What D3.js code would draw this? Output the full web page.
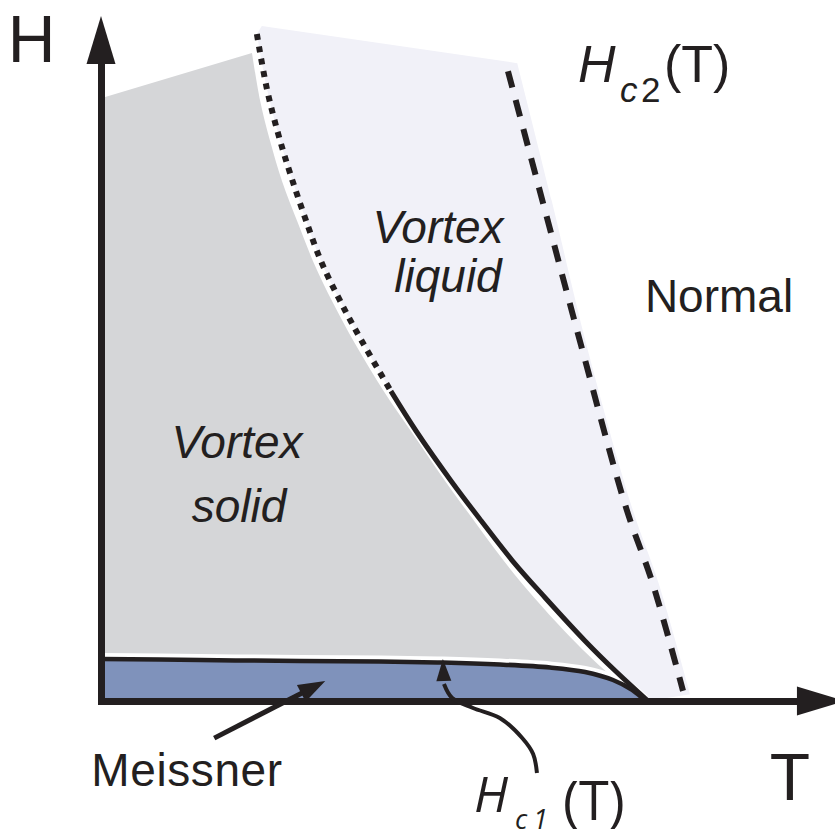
<!DOCTYPE html>
<html>
<head>
<meta charset="utf-8">
<script src="https://cdn.jsdelivr.net/npm/d3@7"></script>
<style>
  html, body { margin: 0; padding: 0; background: #ffffff; }
  svg { display: block; }
  text { font-family: "Liberation Sans", Arial, Helvetica, sans-serif; fill: #231f20; }
</style>
</head>
<body>
<svg id="chart" width="835" height="837"></svg>
<script>
// ---- Phase diagram of a type-II superconductor, reduced units (T/Tc, H/H0) ----

// vortex-lattice melting line (dotted at high field, solid below)
const meltT = [0.285, 0.303, 0.324, 0.346, 0.373, 0.402, 0.437, 0.477, 0.530, 0.576, 0.640, 0.695, 0.753, 0.812, 0.885, 0.941, 1.000];
const meltH = [0.988, 0.908, 0.840, 0.781, 0.716, 0.652, 0.593, 0.533, 0.459, 0.400, 0.326, 0.267, 0.207, 0.153, 0.089, 0.044, 0.000];
const meltSolidFrom = 8;   // first point of the solid (first-order) segment

// outer edge of the vortex-solid shading
const solidEdgeT = [0.000, 0.276, 0.291, 0.309, 0.331, 0.360, 0.389, 0.424, 0.464, 0.517, 0.569, 0.629, 0.682, 0.737, 0.792, 0.865, 0.923, 0.980];
const solidEdgeH = [0.893, 0.960, 0.889, 0.830, 0.770, 0.708, 0.649, 0.590, 0.530, 0.459, 0.397, 0.326, 0.267, 0.207, 0.153, 0.089, 0.044, 0.007];

// upper critical field Hc2(T)
const hc2T = [0.744, 0.812, 0.878, 0.960, 1.009, 1.064];
const hc2H = [0.933, 0.726, 0.526, 0.286, 0.173, 0.015];

// outer edge of the vortex-liquid shading (top edge, then along Hc2)
const liquidEdgeT = [0.294, 0.761, 0.824, 0.888, 0.971, 1.020, 1.077, 1.000];
const liquidEdgeH = [1.000, 0.945, 0.741, 0.526, 0.286, 0.173, 0.010, 0.000];

// lower critical field Hc1(T)
const hc1T = [0.000, 0.181, 0.364, 0.510, 0.625, 0.729, 0.821, 0.885, 0.936, 0.971, 0.995];
const hc1H = [0.0622, 0.0607, 0.0593, 0.0585, 0.0570, 0.0541, 0.0496, 0.0430, 0.0311, 0.0163, 0.000];

// leader lines from the labels below the axis
const meissnerPointerT = [0.207, 0.410];
const meissnerPointerH = [-0.055, 0.0296];
const hc1PointerT = [0.797, 0.790, 0.770, 0.729, 0.680, 0.642, 0.627, 0.625];
const hc1PointerH = [-0.1067, -0.0785, -0.0548, -0.0252, -0.0104, 0.0044, 0.0252, 0.0622];

// axis extents and labels
const axisMaxT = 1.36;
const axisMaxH = 1.015;
const axisLabels = ["T", "H"];
const phaseLabels = ["Normal", "Meissner"];
const solidLabel = ["Vortex", "solid"];
const liquidLabel = ["Vortex", "liquid"];

// ---- drawing ----
const ink = "#231f20";
const svg = d3.select("#chart");

const x = d3.scaleLinear().domain([0, 1]).range([101, 648]);
const y = d3.scaleLinear().domain([0, 1]).range([701, 26]);

const pts = (ts, hs) => ts.map((t, i) => [t, hs[i]]);
const xy = d => x(d[0]) + "," + y(d[1]);
const smooth = d3.line().x(d => x(d[0])).y(d => y(d[1])).curve(d3.curveCatmullRom.alpha(0.5));
const smoothOn = p => smooth(p).replace(/^M/, "L");   // continue an open path with a smooth run

const melt = pts(meltT, meltH);
const solidEdge = pts(solidEdgeT, solidEdgeH);
const liquidEdge = pts(liquidEdgeT, liquidEdgeH);
const hc1 = pts(hc1T, hc1H);
const hc2 = pts(hc2T, hc2H);

// vortex liquid: from the melting line out to beyond Hc2
svg.append("path")
  .attr("d", "M" + xy(liquidEdge[0]) + "L" + xy(liquidEdge[1]) +
             smoothOn(liquidEdge.slice(1, liquidEdge.length - 1)) +
             "L" + xy(liquidEdge[liquidEdge.length - 1]) +
             smoothOn(melt.slice().reverse()) + "Z")
  .attr("fill", "#f1f1f8");

// vortex solid
svg.append("path")
  .attr("d", "M" + xy(solidEdge[0]) + smoothOn(solidEdge.slice(1)) +
             "L" + xy([solidEdgeT[solidEdgeT.length - 1], 0]) + "L" + xy([0, 0]) + "Z")
  .attr("fill", "#d5d6d8");

// Meissner phase below Hc1
svg.append("path")
  .attr("d", d3.area().x(d => x(d[0])).y0(y(0)).y1(d => y(d[1])).curve(d3.curveCatmullRom.alpha(0.5))(hc1))
  .attr("fill", "#7f92bb");

// Hc1 line with a thin white rim on its upper side
svg.append("path")
  .attr("d", smooth(hc1))
  .attr("transform", "translate(0,-2.5)")
  .attr("fill", "none").attr("stroke", "#ffffff").attr("stroke-width", 7);
svg.append("path")
  .attr("d", smooth(hc1))
  .attr("fill", "none").attr("stroke", ink).attr("stroke-width", 4.5);

// melting line: dotted part, then solid part
svg.append("path")
  .attr("d", smooth(melt.slice(0, meltSolidFrom + 1)))
  .attr("fill", "none").attr("stroke", ink).attr("stroke-width", 6)
  .attr("stroke-dasharray", "6,6.5");
svg.append("path")
  .attr("d", smooth(melt.slice(meltSolidFrom)))
  .attr("fill", "none").attr("stroke", ink).attr("stroke-width", 5);

// Hc2 line, dashed
svg.append("path")
  .attr("d", smooth(hc2))
  .attr("fill", "none").attr("stroke", ink).attr("stroke-width", 6)
  .attr("stroke-dasharray", "17,13");

// axes without ticks, ending in arrowheads
const xAxisScale = x.copy().domain([0, axisMaxT]).range([x(0), x(axisMaxT) - 40]);
const yAxisScale = y.copy().domain([0, axisMaxH]).range([y(0), y(axisMaxH) + 40]);

const gx = svg.append("g").attr("transform", `translate(0,${y(0)})`)
  .call(d3.axisBottom(xAxisScale).tickValues([]).tickSizeOuter(0));
const gy = svg.append("g").attr("transform", `translate(${x(0)},0)`)
  .call(d3.axisLeft(yAxisScale).tickValues([]).tickSizeOuter(0));
[gx, gy].forEach(g => g.select(".domain")
  .attr("stroke", ink).attr("stroke-width", 7).attr("stroke-linecap", "square"));

function head(tip, from, len, half) {
  const dx = tip[0] - from[0], dy = tip[1] - from[1];
  const L = Math.hypot(dx, dy), ux = dx / L, uy = dy / L;
  const bx = tip[0] - ux * len, by = tip[1] - uy * len;
  svg.append("path")
    .attr("d", `M${tip[0]},${tip[1]}L${bx - uy * half},${by + ux * half}L${bx + uy * half},${by - ux * half}Z`)
    .attr("fill", ink);
  return [bx + ux * 2, by + uy * 2];
}
head([x(axisMaxT), y(0)], [x(0), y(0)], 48, 14.5);
head([x(0), y(axisMaxH)], [x(0), y(0)], 48, 14.5);

// leader to the Meissner phase
{
  const from = [x(meissnerPointerT[0]), y(meissnerPointerH[0])];
  const tip = [x(meissnerPointerT[1]), y(meissnerPointerH[1])];
  const base = head(tip, from, 27, 9.5);
  svg.append("path").attr("d", `M${from}L${base}`)
    .attr("stroke", ink).attr("stroke-width", 5).attr("fill", "none");
}
// curved leader to Hc1
{
  const p = pts(hc1PointerT, hc1PointerH);
  const tip = [x(p[p.length - 1][0]), y(p[p.length - 1][1])];
  const prev = [x(p[p.length - 2][0]), y(p[p.length - 2][1])];
  head(tip, prev, 22, 7.5);
  svg.append("path").attr("d", smooth(p.slice(0, p.length - 1)))
    .attr("stroke", ink).attr("stroke-width", 4).attr("fill", "none");
}

// axis labels
svg.append("text").attr("x", 31.5).attr("y", 62).attr("text-anchor", "middle")
  .attr("font-size", 66).text(axisLabels[1]);
svg.append("text").attr("x", 790).attr("y", 800).attr("text-anchor", "middle")
  .attr("font-size", 66).text(axisLabels[0]);

// phase labels
svg.append("text").attr("x", 719).attr("y", 312).attr("text-anchor", "middle")
  .attr("font-size", 46).text(phaseLabels[0]);
svg.append("text").attr("x", 187).attr("y", 786).attr("text-anchor", "middle")
  .attr("font-size", 46).attr("letter-spacing", 0.6).text(phaseLabels[1]);

const solidText = svg.append("text").attr("text-anchor", "middle")
  .attr("font-size", 46).attr("font-style", "italic");
solidText.append("tspan").attr("x", 237).attr("y", 458).text(solidLabel[0]);
solidText.append("tspan").attr("x", 239).attr("y", 522).text(solidLabel[1]);

const liquidText = svg.append("text").attr("text-anchor", "middle")
  .attr("font-size", 46).attr("font-style", "italic");
liquidText.append("tspan").attr("x", 438).attr("y", 243).text(liquidLabel[0]);
liquidText.append("tspan").attr("x", 448).attr("y", 292).text(liquidLabel[1]);

// Hc2(T)
const hc2Text = svg.append("text");
hc2Text.append("tspan").attr("x", 578).attr("y", 82).attr("font-size", 52).attr("font-style", "italic").text("H");
hc2Text.append("tspan").attr("x", 620).attr("y", 102).attr("font-size", 35).attr("font-style", "italic").text("c");
hc2Text.append("tspan").attr("x", 641).attr("y", 102).attr("font-size", 35).text("2");
hc2Text.append("tspan").attr("x", 664).attr("y", 82).attr("font-size", 52).text("(T)");

// Hc1(T)
const hc1Text = svg.append("text").style("font-family", '"Open Sans", "Liberation Sans", sans-serif');
hc1Text.append("tspan").attr("x", 474).attr("y", 812).attr("font-size", 50).attr("font-style", "italic").text("H");
hc1Text.append("tspan").attr("x", 515).attr("y", 829).attr("font-size", 27).attr("font-style", "italic").text("c");
hc1Text.append("tspan").attr("x", 533).attr("y", 829).attr("font-size", 27).attr("font-style", "italic").text("1");
hc1Text.append("tspan").attr("x", 563).attr("y", 820).attr("font-size", 54).text("(T)");
</script>
</body>
</html>
